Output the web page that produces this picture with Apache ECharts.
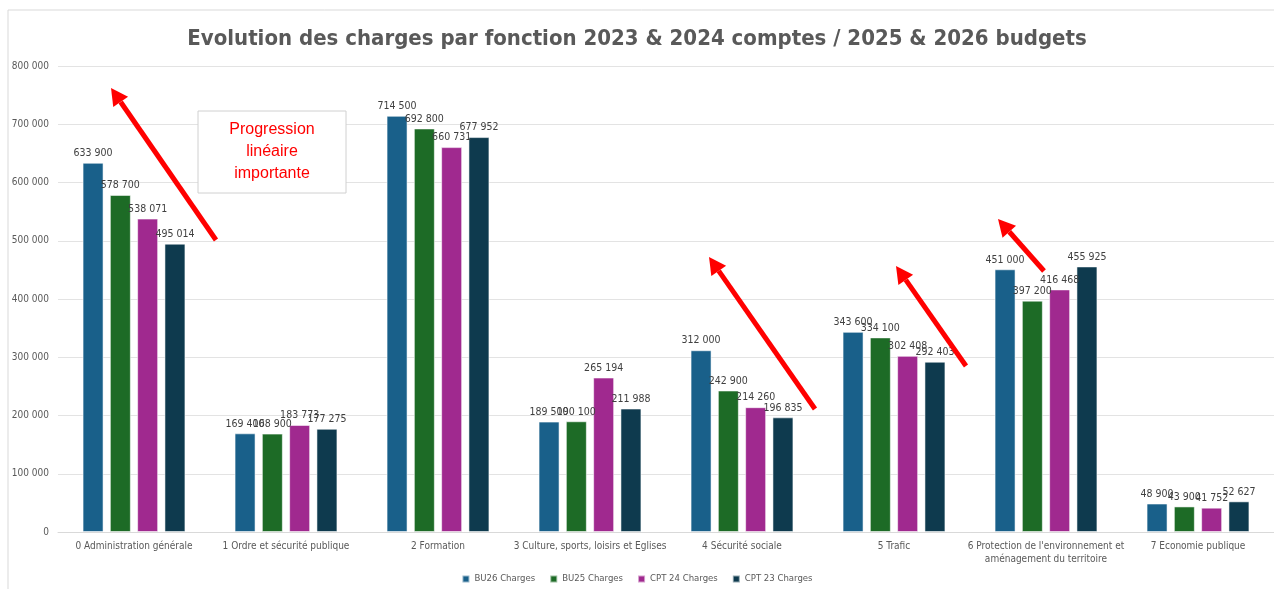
<!DOCTYPE html>
<html>
<head>
<meta charset="utf-8">
<script src="https://cdn.jsdelivr.net/npm/echarts@6/dist/echarts.min.js"></script>
<style>
html,body{margin:0;padding:0;background:#fff;}
#chart{width:1274px;height:589px;}
</style>
</head>
<body>
<div id="chart"></div>
<script>
const categories = [
  "0 Administration générale",
  "1 Ordre et sécurité publique",
  "2 Formation",
  "3 Culture, sports, loisirs et Eglises",
  "4 Sécurité sociale",
  "5 Trafic",
  "6 Protection de l'environnement et\naménagement du territoire",
  "7 Economie publique"
];
const seriesNames = ["BU26 Charges", "BU25 Charges", "CPT 24 Charges", "CPT 23 Charges"];
const bu26 = [633900, 169400, 714500, 189500, 312000, 343600, 451000, 48900];
const bu25 = [578700, 168900, 692800, 190100, 242900, 334100, 397200, 43900];
const cpt24 = [538071, 183773, 660731, 265194, 214260, 302408, 416468, 41752];
const cpt23 = [495014, 177275, 677952, 211988, 196835, 292403, 455925, 52627];
const colors = ["#19608a", "#1d6b26", "#a0298f", "#0e3a4e"];
const yTicks = { min: 0, max: 800000, interval: 100000 };

const FONT = "'Liberation Sans Narrow','DejaVu Sans Condensed','Liberation Sans',sans-serif";
function fmt(v) {
  return String(v).replace(/\B(?=(\d{3})+(?!\d))/g, ' ');
}

const chart = echarts.init(document.getElementById('chart'), null, { renderer: 'canvas' });
const dataSets = [bu26, bu25, cpt24, cpt23];

const series = dataSets.map((d, i) => ({
  name: seriesNames[i],
  type: 'bar',
  data: d,
  barWidth: 21,
  barGap: '30%',
  itemStyle: { color: colors[i], borderColor: 'rgba(255,255,255,0.55)', borderWidth: 1 },
  label: {
    show: true,
    position: 'top',
    distance: 4,
    color: '#404040',
    fontSize: 10.5,
    fontFamily: FONT,
    formatter: p => fmt(p.value)
  }
}));

function arrow(x1, y1, x2, y2) {
  const ang = Math.atan2(y2 - y1, x2 - x1);
  const hl = 17, hw = 9;
  const bx = x2 - hl * Math.cos(ang), by = y2 - hl * Math.sin(ang);
  const px = -Math.sin(ang), py = Math.cos(ang);
  return [
    { type: 'line', shape: { x1: x1, y1: y1, x2: bx, y2: by }, style: { stroke: '#ff0000', lineWidth: 5 }, z: 100 },
    { type: 'polygon', shape: { points: [[x2, y2], [bx + px * hw, by + py * hw], [bx - px * hw, by - py * hw]] }, style: { fill: '#ff0000' }, z: 100 }
  ];
}

const graphics = [
  { type: 'rect', shape: { x: 8, y: 10, width: 1280, height: 600 }, style: { fill: 'none', stroke: '#d9d9d9', lineWidth: 1 }, z: -1, silent: true },
  { type: 'rect', shape: { x: 198, y: 111, width: 148, height: 82 }, style: { fill: '#fff', stroke: '#d0d0d0', lineWidth: 1 }, z: 90 },
  { type: 'text', x: 272, y: 152, style: { text: 'Progression\nlinéaire\nimportante', fill: '#ff0000', font: "16px 'Liberation Sans', sans-serif", align: 'center', verticalAlign: 'middle', lineHeight: 22 }, z: 91 }
].concat(
  arrow(216, 240, 111, 88),
  arrow(815, 409, 709, 257),
  arrow(966, 366, 896, 266),
  arrow(1044, 271, 998, 219)
);

chart.setOption({
  animation: false,
  color: colors,
  title: {
    text: 'Evolution des charges par fonction 2023 & 2024 comptes / 2025 & 2026 budgets',
    left: 'center',
    top: 23,
    textStyle: { color: '#595959', fontSize: 22, fontWeight: 'bold', fontFamily: FONT }
  },
  legend: {
    bottom: 0,
    left: 'center',
    itemWidth: 7,
    itemHeight: 7,
    itemGap: 14,
    icon: 'rect',
    textStyle: { color: '#595959', fontSize: 9.5, fontFamily: FONT }
  },
  grid: { left: 58, right: 0, top: 66, bottom: 57, containLabel: false },
  xAxis: {
    type: 'category',
    data: categories,
    axisLine: { lineStyle: { color: '#d9d9d9' } },
    axisTick: { show: false },
    axisLabel: { color: '#595959', fontSize: 10, fontFamily: FONT, margin: 8, interval: 0, lineHeight: 13 }
  },
  yAxis: {
    type: 'value',
    min: yTicks.min,
    max: yTicks.max,
    interval: yTicks.interval,
    axisLine: { show: false },
    axisTick: { show: false },
    splitLine: { lineStyle: { color: '#e3e3e3' } },
    axisLabel: { color: '#595959', fontSize: 10, fontFamily: FONT, margin: 9, formatter: v => fmt(v) }
  },
  series: series,
  graphic: graphics
});
</script>
</body>
</html>
